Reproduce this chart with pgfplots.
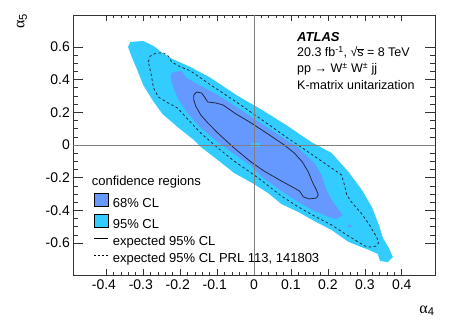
\documentclass[border=0pt]{standalone}
\usepackage{fontspec}
\setmainfont{Liberation Sans}
\newfontfamily\greekfont{Liberation Serif}
\usepackage{pgfplots}
\pgfplotsset{compat=1.18}
\definecolor{cl95}{RGB}{51,204,255}
\definecolor{cl68}{RGB}{102,153,255}
\definecolor{cline}{RGB}{35,40,65}
\begin{document}
\begin{tikzpicture}
\path[use as bounding box] (-73pt,-53pt) rectangle (384pt,275pt);
\begin{axis}[
  scale only axis, width=362pt, height=260pt,
  at={(0pt,0pt)}, anchor=south west,
  xmin=-0.49, xmax=0.49, ymin=-0.795, ymax=0.795,
  axis line style={black!80, line width=0.7pt},
  tick align=inside,
  xtick={-0.4,-0.3,-0.2,-0.1,0,0.1,0.2,0.3,0.4},
  xticklabels={\llap{-}0.4,\llap{-}0.3,\llap{-}0.2,\llap{-}0.1,0,0.1,0.2,0.3,0.4},
  ytick={-0.6,-0.4,-0.2,0,0.2,0.4,0.6},
  yticklabels={-0.6,-0.4,-0.2,0,0.2,0.4,0.6},
  minor x tick num=4, minor y tick num=3,
  xtick pos=both, ytick pos=both, xticklabel pos=lower, yticklabel pos=left,
  x tick style={black!80, line width=0.6pt, /pgfplots/major tick length=6pt, /pgfplots/minor tick length=3pt},
  y tick style={black!80, line width=0.6pt, /pgfplots/major tick length=10pt, /pgfplots/minor tick length=5pt},
  xticklabel style={font=\fontsize{14}{14}\selectfont, anchor=north, inner sep=0pt, yshift=-5pt},
  yticklabel style={font=\fontsize{14}{14}\selectfont, anchor=east, inner sep=0pt, xshift=-3pt},
  xlabel={{\greekfont α}\textsubscript{4}},
  ylabel={{\greekfont α}\textsubscript{5}},
  xlabel style={at={(rel axis cs:0.978,-0.138)}, anchor=center, font=\fontsize{16}{16}\selectfont},
  ylabel style={at={(rel axis cs:-0.141,0.977)}, anchor=center, font=\fontsize{16}{16}\selectfont},
  legend cell align=left,
  legend style={at={(rel axis cs:0.058,0.381)}, anchor=north west, draw=none, fill=none,
    inner sep=0pt, outer sep=0pt, font=\fontsize{13}{15}\selectfont, row sep=4pt,
    nodes={inner sep=0pt, text height=10pt, text depth=3pt},
    /tikz/every odd column/.append style={column sep=4pt}},
]
% 95% CL observed
\addplot[fill=cl95, draw=none, forget plot] coordinates {
(-0.341,0.599) (-0.335,0.630) (-0.300,0.636) (-0.272,0.606) (-0.248,0.563)
(-0.221,0.526) (-0.172,0.477) (-0.117,0.410) (-0.044,0.300) (0.022,0.214)
(0.087,0.122) (0.155,0.018) (0.210,-0.049) (0.256,-0.165) (0.292,-0.275)
(0.319,-0.379) (0.338,-0.489) (0.349,-0.569) (0.365,-0.630) (0.376,-0.685)
(0.362,-0.716) (0.341,-0.709) (0.335,-0.666) (0.311,-0.642) (0.256,-0.593)
(0.210,-0.520) (0.163,-0.465) (0.120,-0.410) (0.074,-0.361) (0.038,-0.294)
(0.000,-0.239) (-0.054,-0.171) (-0.098,-0.092) (-0.144,-0.012) (-0.163,0.031)
(-0.207,0.110) (-0.248,0.190) (-0.275,0.275) (-0.300,0.367) (-0.316,0.459)
(-0.330,0.532) (-0.341,0.599)
};
% 68% CL observed
\addplot[fill=cl68, draw=none, forget plot] coordinates {
(-0.226,0.428) (-0.218,0.446) (-0.196,0.453) (-0.183,0.410) (-0.144,0.361)
(-0.098,0.306) (-0.044,0.226) (0.022,0.128) (0.087,0.031) (0.120,-0.018)
(0.163,-0.110) (0.183,-0.183) (0.193,-0.257) (0.210,-0.336) (0.232,-0.404)
(0.240,-0.428) (0.223,-0.453) (0.210,-0.446) (0.163,-0.404) (0.120,-0.349)
(0.074,-0.281) (0.022,-0.196) (-0.008,-0.128) (-0.054,-0.055) (-0.098,0.018)
(-0.144,0.104) (-0.180,0.196) (-0.204,0.275) (-0.218,0.349) (-0.226,0.410)
(-0.226,0.428)
};
\addplot[fill=cl95, draw=none, forget plot] coordinates {
(-0.008,-0.012) (0.016,-0.012) (0.016,0.012) (-0.008,0.012) (-0.008,-0.012)};
\addplot[fill=cl68, draw=none, forget plot] coordinates {
(0.254,-0.488) (0.264,-0.488) (0.264,-0.502) (0.254,-0.502) (0.254,-0.488)};
% expected 95% CL
\addplot[draw=cline, line width=0.8pt, forget plot] coordinates {
(-0.163,0.306) (-0.155,0.324) (-0.142,0.318) (-0.134,0.294) (-0.125,0.263)
(-0.104,0.257) (-0.084,0.245) (-0.049,0.190) (-0.008,0.135) (0.038,0.067)
(0.082,0.000) (0.109,-0.049) (0.131,-0.104) (0.147,-0.165) (0.158,-0.226)
(0.169,-0.275) (0.174,-0.306) (0.169,-0.324) (0.150,-0.330) (0.134,-0.318)
(0.123,-0.281) (0.104,-0.257) (0.074,-0.220) (0.027,-0.159) (-0.008,-0.104)
(-0.054,-0.018) (-0.098,0.073) (-0.125,0.135) (-0.144,0.183) (-0.158,0.239)
(-0.163,0.275) (-0.163,0.306)
};
% expected 95% CL PRL
\addplot[draw=cline, line width=0.8pt, dash pattern=on 2.5pt off 2.5pt, forget plot] coordinates {
(-0.286,0.508) (-0.281,0.544) (-0.264,0.563) (-0.245,0.563) (-0.232,0.544)
(-0.223,0.508) (-0.204,0.483) (-0.172,0.453) (-0.117,0.367) (-0.044,0.257)
(0.022,0.153) (0.087,0.049) (0.155,-0.055) (0.210,-0.141) (0.237,-0.183)
(0.245,-0.245) (0.251,-0.306) (0.264,-0.349) (0.292,-0.422) (0.311,-0.483)
(0.327,-0.544) (0.338,-0.593) (0.332,-0.618) (0.313,-0.624) (0.300,-0.618)
(0.256,-0.557) (0.210,-0.489) (0.163,-0.434) (0.120,-0.379) (0.074,-0.312)
(0.022,-0.220) (0.000,-0.183) (-0.054,-0.098) (-0.098,-0.018) (-0.144,0.073)
(-0.180,0.159) (-0.207,0.226) (-0.237,0.263) (-0.259,0.294) (-0.272,0.349)
(-0.278,0.428) (-0.286,0.508)
};
% cross-hair
\addplot[gray, line width=0.7pt, forget plot] coordinates {(-0.49,0) (0.49,0)};
\addplot[gray, line width=0.7pt, forget plot] coordinates {(0,-0.795) (0,0.795)};
% legend
\addlegendimage{empty legend}
\addlegendentry{\hspace{-21pt}confidence regions}
\addlegendimage{legend image code/.code={\draw[fill=cl68, draw=black, line width=0.6pt] (0pt,-2.5pt) rectangle (14pt,10.5pt);}}
\addlegendentry{68\% CL}
\addlegendimage{legend image code/.code={\draw[fill=cl95, draw=black, line width=0.6pt] (0pt,-2.5pt) rectangle (14pt,10.5pt);}}
\addlegendentry{95\% CL}
\addlegendimage{legend image code/.code={\draw[black, line width=0.8pt] (0pt,4pt) -- (14pt,4pt);}}
\addlegendentry{expected 95\% CL}
\addlegendimage{legend image code/.code={\draw[black, line width=0.8pt, dash pattern=on 2pt off 2pt] (0pt,4pt) -- (14pt,4pt);}}
\addlegendentry{expected 95\% CL PRL 113, 141803}
\end{axis}
\node[anchor=base west, inner sep=0pt, font=\fontsize{13}{13}\selectfont\bfseries\itshape] at (224pt,233pt) {ATLAS};
\node[anchor=base west, inner sep=0pt, font=\fontsize{12.5}{13}\selectfont] at (224pt,218pt) {20.3 fb\textsuperscript{-1}, √\kern-0.2pt\ensuremath{\overline{\hbox{s}}} = 8 TeV};
\node[anchor=base west, inner sep=0pt, font=\fontsize{12.5}{13}\selectfont] at (224pt,202pt) {pp → W\textsuperscript{±} W\textsuperscript{±} jj};
\node[anchor=base west, inner sep=0pt, font=\fontsize{12.5}{13}\selectfont] at (224pt,185pt) {K-matrix unitarization};
\end{tikzpicture}
\end{document}
